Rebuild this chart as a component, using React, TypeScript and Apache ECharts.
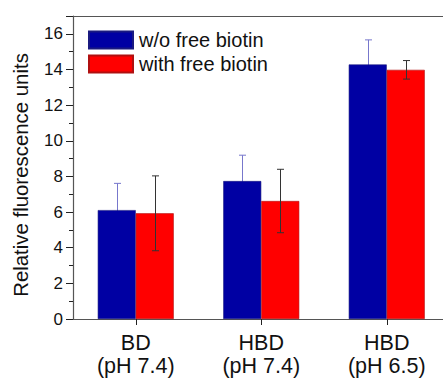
import React, { useEffect, useRef } from "react";
import * as echarts from "echarts";

const categories = ["BD\n(pH 7.4)", "HBD\n(pH 7.4)", "HBD\n(pH 6.5)"];
const seriesNames = ["w/o free biotin", "with free biotin"];
const withoutValues = [6.11, 7.74, 14.28];
const withoutErrors = [1.5, 1.45, 1.38];
const withValues = [5.93, 6.62, 13.98];
const withErrors = [2.1, 1.78, 0.52];
const yTicks = { min: 0, max: 17, interval: 2 };
const yTitle = "Relative fluorescence units";

const FONT = "Liberation Sans, Arial, sans-serif";
const BAR_W = 38;

function errorSeries(values: number[], errors: number[], offset: number, color: string, z: number) {
  return {
    type: "custom",
    z,
    silent: true,
    data: values.map((v, i) => [i, v, errors[i]]),
    renderItem: (params: any, api: any) => {
      const idx = api.value(0);
      const v = api.value(1);
      const e = api.value(2);
      const top = api.coord([idx, v + e]);
      const bot = api.coord([idx, v - e]);
      const x = Math.round(top[0] + offset) + 0.5;
      const cap = 3.5;
      return {
        type: "group",
        children: [
          { type: "line", shape: { x1: x, y1: top[1], x2: x, y2: bot[1] }, style: { stroke: color, lineWidth: 1 } },
          { type: "line", shape: { x1: x - cap, y1: top[1], x2: x + cap, y2: top[1] }, style: { stroke: color, lineWidth: 1 } },
          { type: "line", shape: { x1: x - cap, y1: bot[1], x2: x + cap, y2: bot[1] }, style: { stroke: color, lineWidth: 1 } },
        ],
      };
    },
  };
}

export default function App() {
  const ref = useRef<HTMLDivElement>(null);
  useEffect(() => {
    if (!ref.current) return;
    const chart = echarts.init(ref.current, undefined, { renderer: "svg" });
    chart.setOption({
      animation: false,
      textStyle: { fontFamily: FONT },
      grid: { left: 73, top: 16, bottom: 62, right: -6.5, containLabel: false, outerBoundsMode: "none" },
      graphic: [
        {
          type: "text",
          x: 21,
          y: 175,
          rotation: Math.PI / 2,
          style: {
            text: yTitle,
            fontSize: 20.4,
            fontFamily: FONT,
            fill: "#111",
            align: "center",
            verticalAlign: "middle",
          },
        },
      ],
      legend: {
        data: seriesNames,
        orient: "vertical",
        left: 88,
        top: 30,
        padding: 0,
        icon: "rect",
        itemWidth: 44,
        itemHeight: 17,
        itemGap: 4,
        textStyle: { fontSize: 20, color: "#111", fontFamily: FONT, padding: [0, 0, 0, 1] },
      },
      xAxis: [
        {
          type: "category",
          data: categories,
          axisLine: { lineStyle: { color: "#555", width: 1.2 } },
          axisTick: { show: true, alignWithLabel: true, length: 6, lineStyle: { color: "#222" } },
          axisLabel: { fontSize: 21.5, color: "#111", lineHeight: 23.5, margin: 12, fontFamily: FONT },
        },
        {
          type: "category",
          data: categories,
          position: "top",
          axisLine: { show: true, lineStyle: { color: "#555", width: 1.2 } },
          axisTick: { show: false },
          axisLabel: { show: false },
        },
      ],
      yAxis: {
        type: "value",
        min: yTicks.min,
        max: yTicks.max,
        interval: yTicks.interval,
        axisLine: { show: true, lineStyle: { color: "#555", width: 1.2 } },
        axisTick: { show: true, length: 7, lineStyle: { color: "#222" } },
        minorTick: { show: true, splitNumber: 2, length: 4, lineStyle: { color: "#222" } },
        splitLine: { show: false },
        axisLabel: { fontSize: 17, color: "#111", margin: 10, fontFamily: FONT, showMaxLabel: false },
      },
      series: [
        errorSeries(withoutValues, withoutErrors, -BAR_W / 2, "#7777cc", 1),
        {
          name: seriesNames[0],
          type: "bar",
          data: withoutValues,
          barWidth: BAR_W,
          barGap: "0%",
          z: 2,
          itemStyle: { color: "#0000A3", borderColor: "#1a1a80", borderWidth: 0.6 },
        },
        {
          name: seriesNames[1],
          type: "bar",
          data: withValues,
          barWidth: BAR_W,
          barGap: "0%",
          z: 2,
          itemStyle: { color: "#FF0000", borderColor: "#b01010", borderWidth: 0.6 },
        },
        errorSeries(withValues, withErrors, BAR_W / 2, "#333333", 3),
      ],
    });
    return () => chart.dispose();
  }, []);
  return <div ref={ref} style={{ width: 443, height: 381, position: "absolute", left: 0, top: 0 }} />;
}
